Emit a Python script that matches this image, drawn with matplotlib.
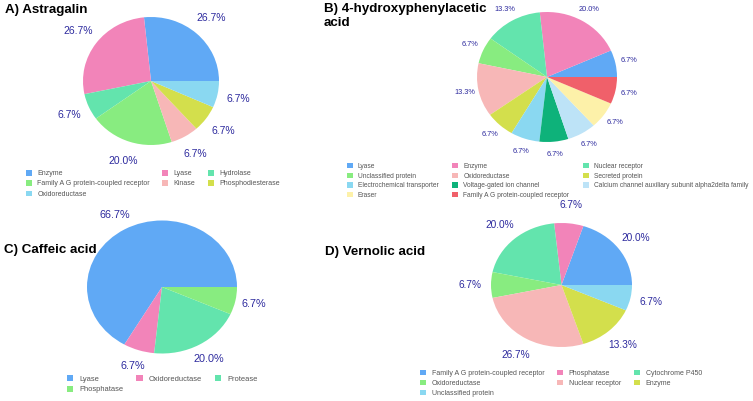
import matplotlib
matplotlib.use("Agg")
import matplotlib.pyplot as plt

plt.rcParams['font.family'] = ['Liberation Sans', 'DejaVu Sans']

# ---------------- data ----------------
a_title = "A) Astragalin"
a_labels = ["Enzyme", "Lyase", "Hydrolase", "Family A G protein-coupled receptor",
            "Kinase", "Phosphodiesterase", "Oxidoreductase"]
a_values = [26.7, 26.7, 6.7, 20.0, 6.7, 6.7, 6.7]

b_title = "B) 4-hydroxyphenylacetic\nacid"
b_labels = ["Lyase", "Enzyme", "Nuclear receptor", "Unclassified protein", "Oxidoreductase",
            "Secreted protein", "Electrochemical transporter", "Voltage-gated ion channel",
            "Calcium channel auxiliary subunit alpha2delta family", "Eraser",
            "Family A G protein-coupled receptor"]
b_values = [6.7, 20.0, 13.3, 6.7, 13.3, 6.7, 6.7, 6.7, 6.7, 6.7, 6.7]

c_title = "C) Caffeic acid"
c_labels = ["Lyase", "Oxidoreductase", "Protease", "Phosphatase"]
c_values = [66.7, 6.7, 20.0, 6.7]

d_title = "D) Vernolic acid"
d_labels = ["Family A G protein-coupled receptor", "Phosphatase", "Cytochrome P450",
            "Oxidoreductase", "Nuclear receptor", "Enzyme", "Unclassified protein"]
d_values = [20.0, 6.7, 20.0, 6.7, 26.7, 13.3, 6.7]

# ---------------- colours ----------------
BLUE = "#60a9f5"; PINK = "#f284b9"; TEAL = "#63e4ad"; GREEN = "#88ec80"
LPINK = "#f7b7b7"; YGREEN = "#d3df4c"; SKY = "#8ad8f1"; DGREEN = "#0eb27a"
PBLUE = "#bde3f7"; PYELLOW = "#fdf1a9"; RED = "#f0606a"

a_colors = [BLUE, PINK, TEAL, GREEN, LPINK, YGREEN, SKY]
b_colors = [BLUE, PINK, TEAL, GREEN, LPINK, YGREEN, SKY, DGREEN, PBLUE, PYELLOW, RED]
c_colors = [BLUE, PINK, TEAL, GREEN]
d_colors = [BLUE, PINK, TEAL, GREEN, LPINK, YGREEN, SKY]

LABEL_COLOR = "#2d2a9e"
LEGEND_COLOR = "#555555"

W, H = 753, 401
fig = plt.figure(figsize=(W / 100, H / 100), dpi=100)


def reorder(items, ncol):
    n = len(items)
    return [items[i] for c in range(ncol) for i in range(c, n, ncol)]


def add_pie(cx, cy, rx, ry, values, colors, labels, pctdist, fs,
            leg_x, leg_y, leg_fs, colspace, labspace):
    ax = fig.add_axes([(cx - rx) / W, 1 - (cy + ry) / H, 2 * rx / W, 2 * ry / H])
    total = sum(values)
    wedges, _, _ = ax.pie(values, colors=colors, startangle=0, counterclock=True,
                          autopct=lambda p: f"{p * total / 100:.1f}%",
                          pctdistance=pctdist,
                          textprops=dict(color=LABEL_COLOR, fontsize=fs),
                          wedgeprops=dict(linewidth=0))
    ax.set_aspect('auto')
    ax.set_xlim(-1, 1)
    ax.set_ylim(-1, 1)
    fig.legend(reorder(list(wedges), 3), reorder(list(labels), 3), ncol=3,
               loc='upper left', bbox_to_anchor=(leg_x / W, 1 - leg_y / H),
               frameon=False, fontsize=leg_fs, labelcolor=LEGEND_COLOR,
               handlelength=0.85, handleheight=0.85, handletextpad=0.8,
               labelspacing=labspace, columnspacing=colspace, borderpad=0, borderaxespad=0)
    return ax


add_pie(151, 81, 68, 64, a_values, a_colors, a_labels, 1.32, 7.5, 26, 170, 5.0, 1.75, 0.45)
add_pie(547, 77, 70, 65, b_values, b_colors, b_labels, 1.2, 5.3, 347, 163, 4.8, 2.05, 0.4)
add_pie(162, 287, 75, 66.5, c_values, c_colors, c_labels, 1.25, 7.8, 67, 375, 5.4, 1.7, 0.4)
add_pie(561.5, 285, 70.5, 62, d_values, d_colors, d_labels, 1.3, 7.3, 420, 369.5, 5.05, 1.85, 0.4)

tkw = dict(fontsize=9.6, fontweight='bold', color='black', va='center', ha='left')
fig.text(5 / W, 1 - 9.5 / H, a_title, **tkw)
fig.text(324 / W, 1 - 16 / H, b_title, linespacing=1.3, **tkw)
fig.text(4 / W, 1 - 249.5 / H, c_title, **tkw)
fig.text(325 / W, 1 - 251.5 / H, d_title, **tkw)

fig.savefig("out.png", dpi=100)
